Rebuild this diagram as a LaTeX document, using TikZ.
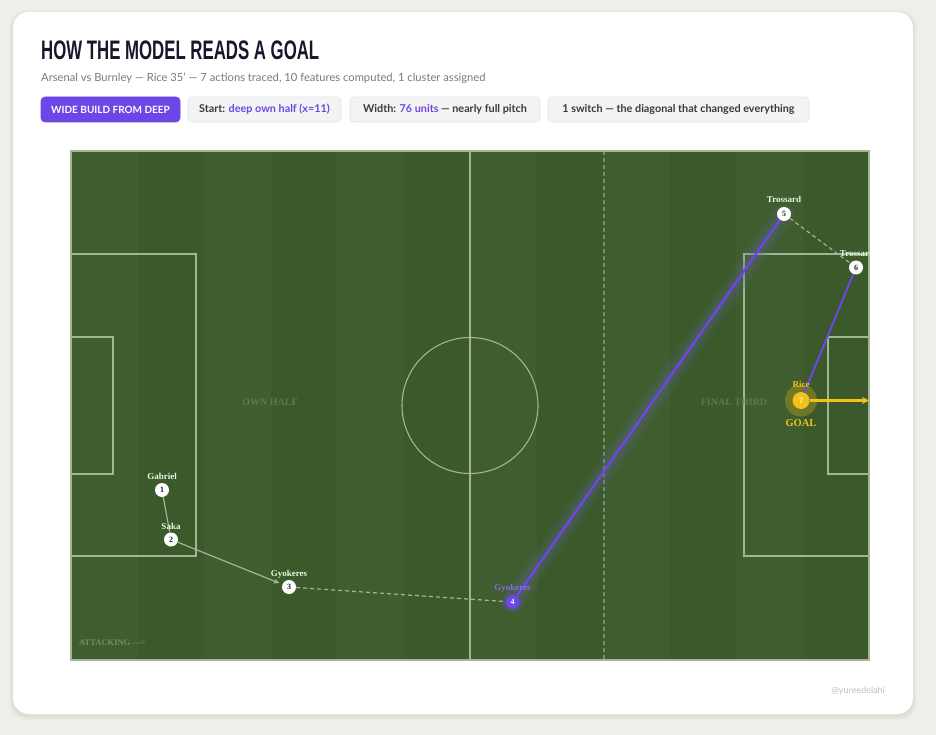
\documentclass[tikz,border=0pt]{standalone}
\usepackage{fontspec}
\usepackage{graphicx}
\setmainfont{Lato}
\newfontfamily\serifb{Liberation Serif}
\newfontfamily\titlef{Liberation Sans}
\usetikzlibrary{arrows.meta}
\definecolor{bgc}{HTML}{EFEFEA}
\definecolor{stripeA}{HTML}{405D30}
\definecolor{stripeB}{HTML}{3B592A}
\definecolor{pline}{HTML}{A3B596}
\definecolor{purp}{HTML}{6D47E6}
\definecolor{gold}{HTML}{F2C21B}
\definecolor{titlec}{HTML}{17172B}
\definecolor{subc}{HTML}{7A7A7A}
\definecolor{chipbg}{HTML}{F3F3F3}
\definecolor{chipbd}{HTML}{E4E4E4}
\definecolor{chipfg}{HTML}{3A3A3A}
\definecolor{fadec}{HTML}{5E7A4C}
\definecolor{numc}{HTML}{1E1E2E}
\definecolor{glowc}{HTML}{5A6690}
\tikzset{
  pitchline/.style={pline, line width=1.1pt},
  conn/.style={pline, line width=1.2pt},
  pl/.style={circle, fill=white, text=numc, inner sep=0pt, minimum size=14pt, font=\serifb\bfseries\fontsize{8}{8}\selectfont},
  lbl/.style={inner sep=0pt, text=white!88!green, font=\serifb\bfseries\fontsize{9}{9}\selectfont},
  zone/.style={inner sep=0pt, text=fadec, font=\serifb\bfseries\fontsize{10}{10}\selectfont},
  chip/.style={draw=chipbd, fill=chipbg, rounded corners=4pt, minimum height=25pt, inner sep=0pt, text=chipfg, font=\bfseries\fontsize{10.8}{10.8}\selectfont, line width=0.6pt},
}
\begin{document}
\begin{tikzpicture}[x=1pt,y=-1pt]
\useasboundingbox (0,0) rectangle (936,735);
\fill[bgc] (0,0) rectangle (936,735);
% card shadow and card
\foreach \o/\op in {4/0.012,3/0.015,2/0.018,1/0.02}{
  \fill[black, opacity=\op, rounded corners=16pt] (13-\o,12-\o+2) rectangle (913+\o,714+\o+2);
}
\fill[white, rounded corners=16pt] (13,12) rectangle (913,714);
% title
\node[anchor=base west, inner sep=0pt, text=titlec] (title) at (41,60)
  {\scalebox{0.646}[1.03]{\fontsize{26}{26}\titlef\bfseries HOW THE MODEL READS A GOAL}};
\node[anchor=base west, inner sep=0pt, text=subc, font=\fontsize{11.2}{11.2}\selectfont] (sub) at (41,82)
  {Arsenal vs Burnley — Rice 35' — 7 actions traced, 10 features computed, 1 cluster assigned};
% chips
\node[chip, fill=purp, draw=purp, text=white, minimum width=139pt, font=\bfseries\fontsize{10}{10}\selectfont] (c1) at (110.5,109.5) {WIDE BUILD FROM DEEP};
\node[chip, minimum width=153pt] (c2) at (264.5,109.5) {Start: \textcolor{purp}{deep own half (x=11)}};
\node[chip, minimum width=190pt] (c3) at (445,109.5) {Width: \textcolor{purp}{76 units} — nearly full pitch};
\node[chip, minimum width=261pt] (c4) at (678.5,109.5) {1 switch — the diagonal that changed everything};
% pitch stripes
\foreach \i in {0,...,11}{
  \pgfmathsetmacro{\xa}{71+66.5*\i}
  \ifodd\i \def\sc{stripeB}\else\def\sc{stripeA}\fi
  \fill[\sc] (\xa,151) rectangle ++(66.5,509);
}
% pitch lines
\draw[pitchline] (71,151) rectangle (869,660);
\draw[pitchline] (470,151) -- (470,660);
\draw[pitchline] (470,405.5) circle[radius=68pt];
\draw[pitchline] (71,254) rectangle (196,556);
\draw[pitchline] (71,337) rectangle (113,474);
\draw[pitchline] (869,254) -- (744,254) -- (744,556) -- (869,556);
\draw[pitchline] (869,337) -- (828,337) -- (828,474) -- (869,474);
\draw[pline, opacity=0.55, line width=1.1pt, dash pattern=on 4pt off 3pt] (604,151) -- (604,660);
% zone labels
\node[zone] (own) at (270,402) {OWN HALF};
\node[zone] (fin) at (734,402) {FINAL THIRD};
\node[zone, anchor=west, text=fadec!85!white, font=\serifb\bfseries\fontsize{8.5}{8.5}\selectfont] (att) at (79,643) {ATTACKING —>};
% player positions
\coordinate (p1c) at (162,490);
\coordinate (p2c) at (171,539.5);
\coordinate (p3c) at (289,587);
\coordinate (p4c) at (512.5,602);
\coordinate (p5c) at (784,214);
\coordinate (p6c) at (856,267.5);
\coordinate (p7c) at (801,400.5);
% glows
\draw[glowc, opacity=0.18, line width=20pt, line cap=round] (p4c) -- (p5c);
\draw[glowc, opacity=0.22, line width=11pt, line cap=round] (p4c) -- (p5c);
\fill[purp, opacity=0.15] (p4c) circle[radius=11pt];
\fill[gold!55!stripeA, opacity=0.5] (p7c) circle[radius=16pt];
\node[pl] (p1) at (p1c) {1};
\node[pl] (p2) at (p2c) {2};
\node[pl] (p3) at (p3c) {3};
\node[pl, fill=purp, text=white] (p4) at (p4c) {4};
\node[pl] (p5) at (p5c) {5};
\node[pl] (p6) at (p6c) {6};
\node[pl, fill=gold, text=white, minimum size=17pt] (p7) at (p7c) {7};
\coordinate (goalend) at (869,400.5);
% connectors
\draw[conn] (p1) -- (p2);
\draw[conn, -{Stealth[length=6pt,width=5pt]}, shorten >=3pt] (p2) -- (p3);
\draw[conn, dash pattern=on 4pt off 3pt] (p3) -- (p4);
\draw[purp, line width=2.4pt] (p4) -- (p5);
\draw[conn, dash pattern=on 4pt off 3pt] (p5) -- (p6);
\draw[purp, line width=2pt] (p6) -- (p7);
\draw[gold, line width=2.4pt, -{Stealth[length=7pt,width=7pt]}] (p7) -- (goalend);
% labels
\node[lbl] (l1) at (162,476) {Gabriel};
\node[lbl] (l2) at (171,526) {Saka};
\node[lbl] (l3) at (289,574) {Gyokeres};
\node[lbl, text=purp!80!white] (l4) at (512.5,588) {Gyokeres};
\node[lbl] (l5) at (784,199.5) {Trossard};
\begin{scope}
\clip (71,151) rectangle (869,660);
\node[lbl] (l6) at (857,253.5) {Trossard};
\end{scope}
\node[lbl, text=gold] (l7) at (801,384) {Rice};
\node[lbl, text=gold, font=\serifb\bfseries\fontsize{10.5}{10.5}\selectfont] (goal) at (801,423) {GOAL};
% watermark
\node[anchor=east, inner sep=0pt, text=black!25, font=\fontsize{9}{9}\selectfont] (wm) at (885,691) {@yureedelahi};
\end{tikzpicture}
\end{document}
